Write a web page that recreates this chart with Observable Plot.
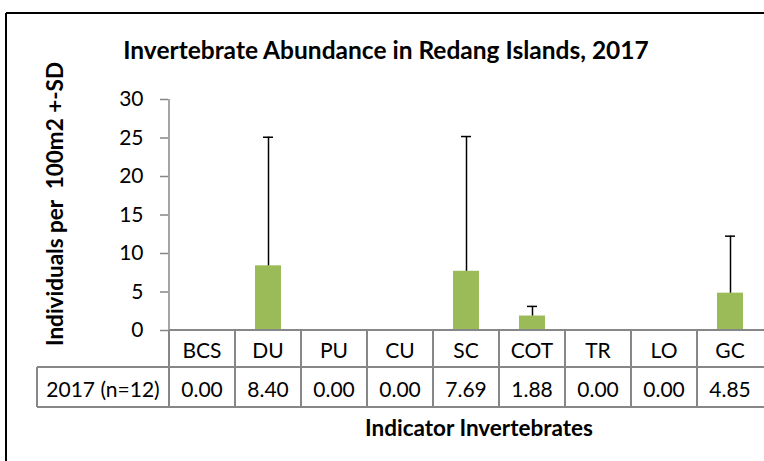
<!DOCTYPE html>
<html><head><meta charset="utf-8">
<script src="https://cdn.jsdelivr.net/npm/d3@7"></script>
<script src="https://cdn.jsdelivr.net/npm/@observablehq/plot@0.6"></script>
<style>
html,body{margin:0;padding:0;background:#fff;overflow:hidden;}
#chart{position:relative;width:764px;height:461px;overflow:hidden;background:#fff;}
</style></head><body><div id="chart"></div>
<script>
const categories = ["BCS","DU","PU","CU","SC","COT","TR","LO","GC"];
const means = [0.00, 8.40, 0.00, 0.00, 7.69, 1.88, 0.00, 0.00, 4.85];
const sds = [0, 16.7, 0, 0, 17.5, 1.25, 0, 0, 7.4];
const yTicks = [0, 5, 10, 15, 20, 25, 30];
const rowLabel = "2017 (n=12)";
const valueLabels = ["0.00","8.40","0.00","0.00","7.69","1.88","0.00","0.00","4.85"];
const chartTitle = "Invertebrate Abundance in Redang Islands, 2017";
const yTitle = "Individuals per  100m2 +-SD";
const xTitle = "Indicator Invertebrates";

const rows = categories.map((c, i) => ({cat: c, mean: means[i], sd: sds[i], top: means[i] + sds[i], label: valueLabels[i]}));
const withSd = rows.filter(d => d.sd > 0);

const W = 764, H = 461;
const FONT = "Lato, 'Open Sans', sans-serif";
const plot = Plot.plot({
  width: W, height: H,
  marginLeft: 168, marginRight: 0, marginTop: 99, marginBottom: 131,
  style: {fontFamily: FONT, fontSize: "21px", color: "#000", background: "#fff", overflow: "hidden", display: "block"},
  x: {domain: categories, paddingInner: 0.6, paddingOuter: 0.3, axis: null},
  y: {domain: [0, 30], axis: null},
  marks: [
    Plot.barY(rows, {x: "cat", y: "mean", fill: "#9BBB59"}),
    Plot.ruleX(withSd, {x: "cat", y1: "mean", y2: "top", stroke: "#000", strokeWidth: 1.5}),
    Plot.tickY(withSd, {x: "cat", y: "top", stroke: "#000", strokeWidth: 1.5, insetLeft: 8, insetRight: 8}),
    Plot.axisY({ticks: yTicks, tickSize: 8, tickPadding: 17, stroke: "#868686", strokeWidth: 1.5, fill: "#000", fontSize: 21, label: null})
  ]
});
document.getElementById("chart").appendChild(plot);

const svg = d3.select(plot);
// outer chart-area border (top and left edges are the only ones inside the picture)
const border = svg.append("g").attr("stroke", "#000").attr("stroke-width", 2);
border.append("line").attr("x1", 6).attr("x2", W + 10).attr("y1", 13).attr("y2", 13);
border.append("line").attr("x1", 6).attr("x2", 6).attr("y1", 13).attr("y2", H + 10);

const xs = plot.scale("x"), ys = plot.scale("y");
const step = xs.step, bw = xs.bandwidth;
const left = c => xs.apply(c) - (step - bw) / 2;
const y0 = ys.apply(0), yTop = ys.apply(30);
const r1 = y0 + 37, r2 = r1 + 40;
const xStart = left(categories[0]);
const xEnd = left(categories[categories.length - 1]) + step;
const labelLeft = 37;
const g = svg.append("g").attr("stroke", "#878787").attr("stroke-width", 2);
// axis line
g.append("line").attr("x1", xStart).attr("x2", xStart).attr("y1", yTop).attr("y2", y0).attr("stroke-width", 1.5);
// table
g.append("line").attr("x1", xStart).attr("x2", xEnd + 5).attr("y1", y0).attr("y2", y0);
g.append("line").attr("x1", labelLeft).attr("x2", xEnd + 5).attr("y1", r1).attr("y2", r1);
g.append("line").attr("x1", labelLeft).attr("x2", xEnd + 5).attr("y1", r2).attr("y2", r2);
g.append("line").attr("x1", labelLeft).attr("x2", labelLeft).attr("y1", r1).attr("y2", r2);
categories.forEach(c => {
  g.append("line").attr("x1", left(c)).attr("x2", left(c)).attr("y1", y0).attr("y2", r2);
});

const t = svg.append("g").attr("font-family", FONT).attr("fill", "#000");
rows.forEach(d => {
  const cx = xs.apply(d.cat) + bw / 2;
  t.append("text").attr("x", cx).attr("y", y0 + 28).attr("text-anchor", "middle").attr("font-size", 21).text(d.cat);
  t.append("text").attr("x", cx).attr("y", r1 + 30).attr("text-anchor", "middle").attr("font-size", 21).text(d.label);
});
t.append("text").attr("x", (labelLeft + xStart) / 2).attr("y", r1 + 30).attr("text-anchor", "middle").attr("font-size", 21).text(rowLabel);

t.append("text").attr("x", 386).attr("y", 59).attr("text-anchor", "middle").attr("font-size", 24.5).attr("font-weight", "bold").text(chartTitle);
t.append("text").attr("x", 479).attr("y", 436).attr("text-anchor", "middle").attr("font-size", 22.5).attr("font-weight", "bold").text(xTitle);
t.append("text").attr("transform", "translate(63,204) rotate(-90)").attr("text-anchor", "middle").attr("font-size", 22.5).attr("font-weight", "bold").style("white-space", "pre").text(yTitle);
</script>
</body></html>
